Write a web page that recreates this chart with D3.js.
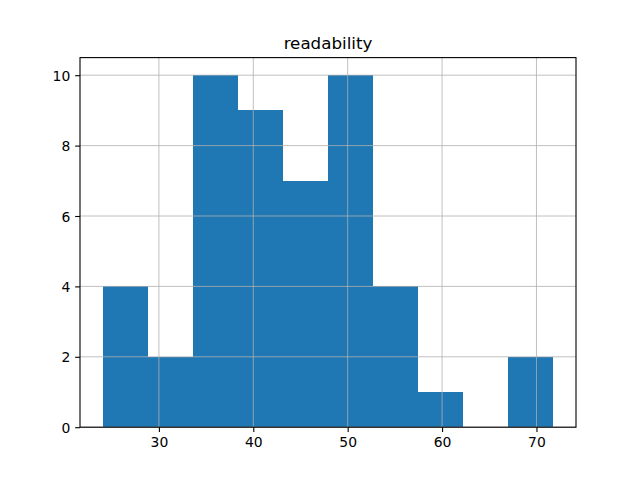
<!DOCTYPE html>
<html><head><meta charset="utf-8">
<script src="https://cdn.jsdelivr.net/npm/d3@7"></script>
<style>body{margin:0;background:#fff}svg{display:block}</style>
</head><body>
<svg id="c" width="640" height="480"></svg>
<script>
const title = "readability";
const binMin = 24.03;
const binMax = 71.8;
const counts = [4, 2, 10, 9, 7, 10, 4, 1, 0, 2];
const xTicks = [30, 40, 50, 60, 70];
const yTicks = [0, 2, 4, 6, 8, 10];

const W = 640, H = 480;
const L = 80, R = 576, T = 57.6, B = 427.2;
const svg = d3.select("#c");
const n = counts.length;
const bw = (binMax - binMin) / n;
const edges = d3.range(n + 1).map(i => binMin + i * bw);
const span = binMax - binMin;
const x = d3.scaleLinear().domain([binMin - 0.05 * span, binMax + 0.05 * span]).range([L, R]);
const ymax = d3.max(counts);
const y = d3.scaleLinear().domain([0, ymax * 1.05]).range([B, T]);

svg.append("g").selectAll("rect").data(counts).join("rect")
  .attr("x", (d, i) => x(edges[i]))
  .attr("width", (d, i) => x(edges[i + 1]) - x(edges[i]))
  .attr("y", d => y(d))
  .attr("height", d => y(0) - y(d))
  .attr("fill", "#1f77b4")
  .attr("shape-rendering", "crispEdges");

const g = svg.append("g").attr("stroke", "#b0b0b0").attr("stroke-width", 0.8);
g.selectAll("line.vx").data(xTicks).join("line")
  .attr("x1", d => x(d)).attr("x2", d => x(d)).attr("y1", T).attr("y2", B);
g.selectAll("line.hy").data(yTicks).join("line")
  .attr("y1", d => y(d)).attr("y2", d => y(d)).attr("x1", L).attr("x2", R);

const fontFam = "DejaVu Sans, sans-serif";
const xAxis = d3.axisBottom(x).tickValues(xTicks).tickSize(4.86).tickPadding(4.86).tickFormat(d3.format("d"));
const yAxis = d3.axisLeft(y).tickValues(yTicks).tickSize(4.86).tickPadding(4.86).tickFormat(d3.format("d"));
const gx = svg.append("g").attr("transform", `translate(0,${B})`).call(xAxis);
const gy = svg.append("g").attr("transform", `translate(${L},0)`).call(yAxis);
[gx, gy].forEach(a => {
  a.select(".domain").remove();
  a.selectAll(".tick line").attr("stroke", "#000").attr("stroke-width", 1.1);
  a.selectAll(".tick text").attr("font-family", fontFam).attr("font-size", "13.9px").attr("fill", "#000");
});
gy.selectAll(".tick text").attr("dy", "0.36em");

svg.append("rect").attr("x", L).attr("y", T).attr("width", R - L).attr("height", B - T)
  .attr("fill", "none").attr("stroke", "#000").attr("stroke-width", 1.1);

svg.append("text").attr("x", (L + R) / 2).attr("y", T - 8.3)
  .attr("text-anchor", "middle").attr("font-family", fontFam).attr("font-size", "16.7px")
  .text(title);
</script>
</body></html>
